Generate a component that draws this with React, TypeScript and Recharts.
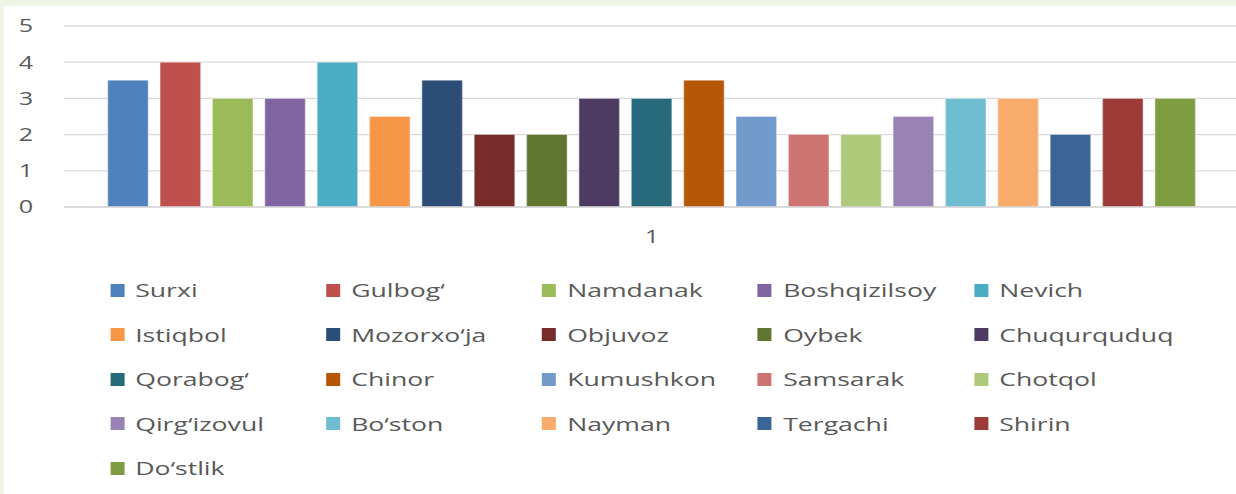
import React from 'react';
import { BarChart, Bar, XAxis, YAxis, CartesianGrid, Legend } from 'recharts';

const categories = ['1'];
const seriesNames = [
  'Surxi', 'Gulbog‘', 'Namdanak', 'Boshqizilsoy', 'Nevich',
  'Istiqbol', 'Mozorxo‘ja', 'Objuvoz', 'Oybek', 'Chuqurquduq',
  'Qorabog‘', 'Chinor', 'Kumushkon', 'Samsarak', 'Chotqol',
  'Qirg‘izovul', 'Bo‘ston', 'Nayman', 'Tergachi', 'Shirin',
  'Do‘stlik',
];
const seriesValues = [
  3.5, 4, 3, 3, 4,
  2.5, 3.5, 2, 2, 3,
  3, 3.5, 2.5, 2, 2,
  2.5, 3, 3, 2, 3,
  3,
];
const seriesColors = [
  '#4F81BD', '#C0504D', '#9BBB59', '#8064A2', '#4BACC6',
  '#F79646', '#2C4D75', '#772C2A', '#5F7530', '#4D3B62',
  '#276A7C', '#B65708', '#729ACA', '#CD7371', '#AFC97A',
  '#9983B5', '#6FBDD1', '#F9AB6B', '#3A6595', '#9C3B38',
  '#7E9D40',
];
const yTicks = [0, 1, 2, 3, 4, 5];

const data = categories.map((c) => {
  const row: Record<string, string | number> = { name: c };
  seriesNames.forEach((n, i) => {
    row[n] = seriesValues[i];
  });
  return row;
});

const S = 1.4; // horizontal stretch of the reference picture
const FONT = '"Open Sans", "Noto Sans", sans-serif';
const TEXT = '#595959';

const LegendContent = () => (
  <div
    style={{
      display: 'grid',
      gridTemplateColumns: `repeat(5, ${216 / S}px)`,
      gridAutoRows: '44.5px',
      paddingLeft: 110 / S,
      fontFamily: FONT,
      fontSize: 19,
      color: TEXT,
    }}
  >
    {seriesNames.map((n, i) => (
      <div key={n} style={{ display: 'flex', alignItems: 'center', whiteSpace: 'nowrap' }}>
        <span
          style={{
            display: 'inline-block',
            width: 10,
            height: 13,
            background: seriesColors[i],
            marginRight: 8,
            flex: '0 0 auto',
          }}
        />
        <span>{n}</span>
      </div>
    ))}
  </div>
);

export default function App() {
  const chartW = 900;
  const plotLeft = 64 / S;
  const plotRight = 1240 / S;
  return (
    <div
      style={{
        position: 'absolute',
        left: 0,
        top: 0,
        width: 1236,
        height: 494,
        overflow: 'hidden',
        background: '#eef5e7',
      }}
    >
      <div style={{ position: 'absolute', left: 4, top: 6, right: 0, bottom: 0, background: '#ffffff' }} />
      <div
        style={{
          position: 'absolute',
          left: 0,
          top: 0,
          width: chartW,
          height: 494,
          transform: `scaleX(${S})`,
          transformOrigin: '0 0',
        }}
      >
        <BarChart
          width={chartW}
          height={494}
          data={data}
          margin={{ top: 26, right: chartW - plotRight, bottom: 257, left: 0 }}
          barCategoryGap={31.2}
          barGap={8.4}
        >
          <CartesianGrid horizontal vertical={false} stroke="#d9d9d9" strokeWidth={1.3} />
          <XAxis
            dataKey="name"
            height={30}
            axisLine={{ stroke: '#d9d9d9', strokeWidth: 1.3 }}
            tickLine={false}
            tickMargin={17}
            tick={{ fill: TEXT, fontSize: 18, fontFamily: FONT }}
          />
          <YAxis
            width={plotLeft}
            domain={[0, 5]}
            ticks={yTicks}
            axisLine={false}
            tickLine={false}
            tickMargin={16}
            tick={{ fill: TEXT, fontSize: 18, fontFamily: FONT }}
          />
          <Legend
            layout="horizontal"
            verticalAlign="middle"
            align="center"
            wrapperStyle={{ top: 267.75, left: 0, width: chartW }}
            content={() => <LegendContent />}
          />
          {seriesNames.map((n, i) => (
            <Bar
              key={n}
              dataKey={n}
              fill={seriesColors[i]}
              stroke="#ffffff"
              strokeOpacity={0.35}
              strokeWidth={1}
              isAnimationActive={false}
            />
          ))}
        </BarChart>
      </div>
    </div>
  );
}
